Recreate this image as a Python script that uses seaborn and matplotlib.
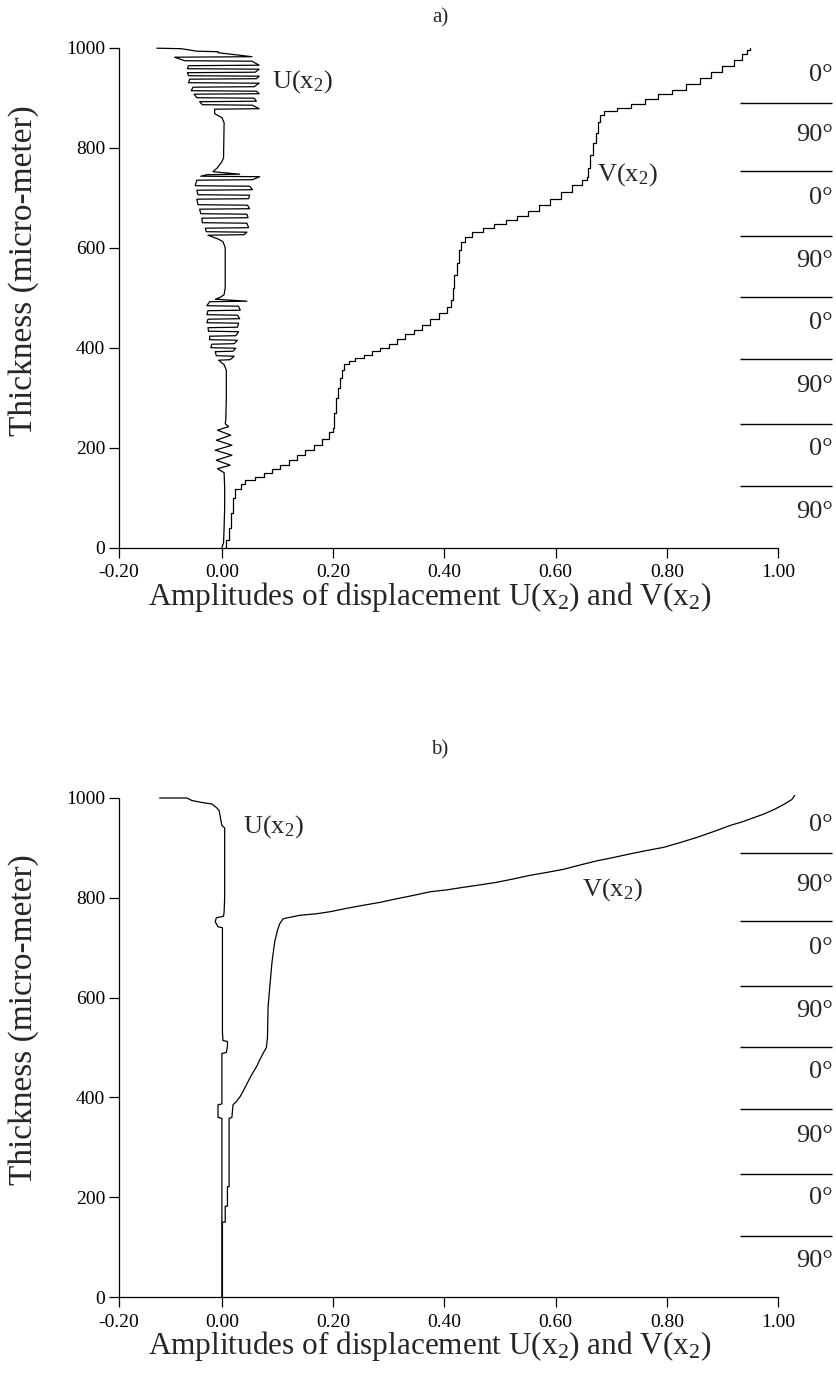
import numpy as np
import pandas as pd
import matplotlib
matplotlib.use("Agg")
import matplotlib.pyplot as plt
import seaborn as sns

# ---------------- data ----------------
# Panel a) : U(x2)  (thickness t, amplitude u), listed bottom to top
ua_t = [0, 10, 40, 80, 120, 150,
        158, 165, 175, 185, 195, 205, 215, 225, 235, 242, 248,
        255, 300, 355, 366,
        375, 376, 383, 384, 392, 393, 399, 400, 407, 408, 415, 416, 423, 424, 432, 433, 440, 441,
        449, 450, 457, 458, 465, 466, 474, 475, 483, 484, 492, 493,
        497, 500, 506, 520, 600, 612, 617,
        625, 626, 631, 632, 639, 640, 649, 650, 659, 660, 667, 668, 677, 678, 685, 686, 697, 698,
        705, 706, 715, 716, 723, 724, 735, 736, 742, 743, 746, 747,
        752, 760, 772, 780, 850, 860, 868, 873,
        877, 878, 885, 886, 892, 893, 899, 900, 907, 908, 913, 914, 921, 922, 929, 930, 937, 938,
        943, 944, 950, 951, 957, 958, 964, 965, 973, 974, 981, 982, 990, 992, 993, 998, 999]
ua_u = [0.000, 0.003, 0.004, 0.005, 0.005, 0.004,
        -0.008, 0.015, -0.010, 0.018, -0.012, 0.018, -0.010, 0.016, -0.008, 0.012, 0.006,
        0.007, 0.008, 0.008, 0.004,
        -0.006, 0.015, 0.022, -0.010, -0.012, 0.020, 0.025, -0.020, -0.018, 0.022, 0.028, -0.022,
        -0.022, 0.025, 0.030, -0.024, -0.025, 0.028, 0.030, -0.027, -0.025, 0.032, 0.028, -0.027,
        -0.025, 0.033, 0.030, -0.027, -0.022, 0.045,
        -0.012, -0.004, 0.004, 0.006, 0.006, 0.002, -0.006,
        -0.025, 0.040, 0.045, -0.028, -0.030, 0.048, 0.045, -0.035, -0.036, 0.047, 0.045, -0.038,
        -0.040, 0.050, 0.046, -0.043, -0.045, 0.048, 0.050, -0.043, -0.045, 0.055, 0.050, -0.048,
        -0.045, 0.055, 0.068, -0.038, -0.027, 0.032,
        -0.016, -0.008, 0.000, 0.003, 0.004, 0.000, -0.013, -0.013,
        -0.013, 0.067, 0.055, -0.035, -0.040, 0.062, 0.058, -0.045, -0.050, 0.067, 0.062, -0.055,
        -0.052, 0.058, 0.067, -0.060, -0.058, 0.062, 0.067, -0.060, -0.062, 0.060, 0.067, -0.062,
        -0.060, 0.067, 0.054, -0.067, -0.085, 0.054, -0.007, -0.007, -0.045, -0.073, -0.117]

# Panel a) : V(x2)
va_t = [0, 15, 40, 70, 100, 118, 128, 135, 142, 150, 158, 166, 175, 185, 195, 205, 218, 232, 240,
        270, 300, 320, 340, 355, 368, 374, 380, 386, 393, 400, 408, 418, 428, 436, 446, 458, 470, 482,
        495, 520, 545, 570, 595, 612, 622, 632, 640, 648, 656, 664, 674, 685, 698, 712, 726, 736, 742,
        760, 785, 810, 830, 852, 866, 874, 880, 888, 898, 908, 916, 928, 940, 952, 964, 976, 988, 995, 1000]
va_v = [0.005, 0.008, 0.012, 0.016, 0.020, 0.024, 0.035, 0.042, 0.060, 0.075, 0.090, 0.105, 0.120,
        0.135, 0.150, 0.165, 0.180, 0.192, 0.200, 0.202, 0.205, 0.208, 0.212, 0.216, 0.220, 0.228, 0.240,
        0.255, 0.270, 0.285, 0.300, 0.315, 0.330, 0.345, 0.360, 0.375, 0.390, 0.405, 0.412, 0.415, 0.418,
        0.422, 0.426, 0.430, 0.438, 0.450, 0.470, 0.490, 0.510, 0.530, 0.550, 0.570, 0.590, 0.610, 0.630,
        0.648, 0.656, 0.658, 0.662, 0.668, 0.672, 0.676, 0.680, 0.688, 0.710, 0.735, 0.760, 0.785, 0.810,
        0.835, 0.860, 0.880, 0.900, 0.920, 0.935, 0.945, 0.950]

# Panel b) : U(x2)
ub_t = [0, 358, 360, 385, 387, 488, 490, 503, 512, 514, 530, 740, 742, 752, 760, 763, 772, 800, 940,
        945, 975, 980, 988, 991, 995, 1000, 1000]
ub_u = [0.000, 0.000, -0.007, -0.007, 0.000, 0.000, 0.008, 0.010, 0.010, 0.002, 0.001, 0.001, -0.007,
        -0.012, -0.010, 0.003, 0.004, 0.005, 0.005, 0.000, -0.005, -0.009, -0.018, -0.036, -0.054,
        -0.063, -0.112]

# Panel b) : V(x2)
vb_t = [0, 150, 150, 182, 182, 221, 221, 358, 360, 385, 393, 402, 412, 425, 438, 450, 463, 475, 488,
        500, 520, 580, 620, 670, 712, 735, 748, 758, 765, 768, 772, 779, 785, 791, 798, 805, 812, 816,
        821, 826, 831, 838, 845, 851, 857, 866, 874, 881, 888, 895, 901, 911, 921, 933, 945, 952, 960,
        968, 978, 988, 997, 1005]
vb_v = [0.001, 0.001, 0.006, 0.006, 0.010, 0.010, 0.013, 0.013, 0.018, 0.020, 0.027, 0.033, 0.038,
        0.044, 0.050, 0.056, 0.063, 0.068, 0.074, 0.080, 0.082, 0.083, 0.086, 0.090, 0.095, 0.100, 0.104,
        0.110, 0.140, 0.170, 0.194, 0.225, 0.254, 0.285, 0.314, 0.345, 0.374, 0.405, 0.434, 0.465, 0.494,
        0.525, 0.554, 0.585, 0.614, 0.645, 0.674, 0.705, 0.734, 0.765, 0.794, 0.825, 0.854, 0.885, 0.914,
        0.935, 0.955, 0.975, 0.995, 1.012, 1.025, 1.030]

# layer annotations
layer_labels = ["0°", "90°", "0°", "90°", "0°", "90°", "0°", "90°"]
layer_label_pos = [945, 825, 700, 573, 450, 323, 198, 72]
layer_bounds = [889, 753, 623, 501, 377, 247, 123]

x_tick_vals = [-0.185, 0.0, 0.2, 0.4, 0.6, 0.8, 1.0]
x_tick_labels = ["-0.20", "0.00", "0.20", "0.40", "0.60", "0.80", "1.00"]
y_ticks = [0, 200, 400, 600, 800, 1000]

# ---------------- style ----------------
sns.set_theme(style="ticks")
plt.rcParams["font.family"] = ["Liberation Serif", "DejaVu Serif"]
plt.rcParams["mathtext.fontset"] = "custom"
plt.rcParams["mathtext.rm"] = "Liberation Serif"
plt.rcParams["mathtext.it"] = "Liberation Serif:italic"
plt.rcParams["mathtext.bf"] = "Liberation Serif:bold"

fig = plt.figure(figsize=(8.36, 13.8), dpi=100)
ax_a = fig.add_axes([119 / 836, 832.3 / 1380, 659 / 836, 500 / 1380])
ax_b = fig.add_axes([119 / 836, 83 / 1380, 659 / 836, 499 / 1380])

LW = 0.9
U_lbl = r"U(x$_2$)"
V_lbl = r"V(x$_2$)"


def draw(ax, ut, uu, vt, vv, v_style, u_txt, v_txt):
    du = pd.DataFrame({"amp": uu, "t": ut})
    dv = pd.DataFrame({"amp": vv, "t": vt})
    sns.lineplot(data=du, x="amp", y="t", sort=False, estimator=None, color="black",
                 lw=LW, ax=ax, clip_on=False)
    sns.lineplot(data=dv, x="amp", y="t", sort=False, estimator=None, color="black",
                 lw=LW, ax=ax, drawstyle=v_style, clip_on=False)
    ax.set_xlim(-0.185, 1.0)
    ax.set_ylim(0, 1000)
    ax.set_xticks(x_tick_vals)
    ax.set_xticklabels(x_tick_labels)
    ax.set_yticks(y_ticks)
    ax.set_yticklabels([str(v) for v in y_ticks])
    ax.tick_params(axis="both", direction="out", length=7, width=0.9, labelsize=14,
                   color="black", labelcolor="black")
    ax.tick_params(axis="x", pad=5)
    ax.tick_params(axis="y", pad=3)
    for s in ["top", "right"]:
        ax.spines[s].set_visible(False)
    for s in ["left", "bottom"]:
        ax.spines[s].set_color("black")
        ax.spines[s].set_linewidth(0.9)
    ax.set_xlabel(r"Amplitudes of displacement U(x$_2$) and V(x$_2$)", fontsize=22.5)
    ax.set_ylabel("Thickness (micro-meter)", fontsize=24)
    ax.xaxis.set_label_coords(0.472, -0.064)
    ax.yaxis.set_label_coords(-0.122, 0.555)
    ax.text(u_txt[0], u_txt[1], U_lbl, fontsize=19, ha="left", va="center")
    ax.text(v_txt[0], v_txt[1], V_lbl, fontsize=19, ha="left", va="center")
    ax.hlines(layer_bounds, 0.932, 1.097, colors="black", lw=1.0, clip_on=False)
    for lab, pos in zip(layer_labels, layer_label_pos):
        ax.text(1.099, pos, lab, fontsize=19, ha="right", va="center", clip_on=False)


draw(ax_a, ua_t, ua_u, va_t, va_v, "steps-post", (0.09, 933), (0.674, 747))
draw(ax_b, ub_t, ub_u, vb_t, vb_v, "default", (0.038, 942), (0.647, 816))

fig.text(440 / 836, 1 - 18 / 1380, "a)", fontsize=15, ha="center", va="center")
fig.text(440 / 836, 1 - 750 / 1380, "b)", fontsize=15, ha="center", va="center")

fig.savefig("out.png", dpi=100)
